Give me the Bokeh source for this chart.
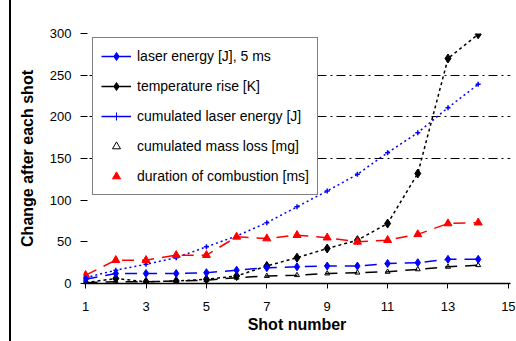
from bokeh.plotting import figure
from bokeh.models import FixedTicker, Legend, LegendItem, Range1d, ColumnDataSource, Div, Spacer
from bokeh.layouts import row
from bokeh.embed import file_html
from bokeh.resources import INLINE

nan = float("nan")

shots = [1, 2, 3, 4, 5, 6, 7, 8, 9, 10, 11, 12, 13, 14]
laser_energy = [5, 12, 12, 12, 13, 16, 19, 20, 21, 21, 24, 25, 29, 29]
temperature_rise = [1, 6, 2, 3, 5, 9, 21, 31, 42, 52, 72, 132, 270, 299]
cumulated_laser = [7, 16, 23, 31, 44, 57, 73, 92, 111, 131, 157, 181, 211, 239]
cumulated_mass = [1, 2, 2, 3, 4, 7, 9, 10, 12, 13, 14, 17, 20, 22]
duration = [10, 28, 28, 34, 34, 56, 54, 58, 55, 50, 52, 59, 72, 73]

x_ticks = [1, 3, 5, 7, 9, 11, 13, 15]
y_ticks = [0, 50, 100, 150, 200, 250, 300]
grid_ticks = [150, 200, 250]

FONT = "Liberation Sans"

p = figure(width=505, height=341, output_backend="svg", toolbar_location=None,
           x_range=Range1d(0.93, 15.07), y_range=Range1d(0, 300),
           min_border_left=72, min_border_right=6, min_border_top=33, min_border_bottom=58,
           margin=0)
p.outline_line_color = None
p.background_fill_color = "white"
p.border_fill_color = "white"

p.xgrid.visible = False
p.ygrid.ticker = FixedTicker(ticks=grid_ticks)
p.ygrid.grid_line_color = "black"
p.ygrid.grid_line_dash = "2 4 9 4"
p.ygrid.grid_line_width = 1.2

p.xaxis.ticker = FixedTicker(ticks=x_ticks)
p.yaxis.ticker = FixedTicker(ticks=y_ticks)
for ax in (p.xaxis[0], p.yaxis[0]):
    ax.major_label_text_font = FONT
    ax.major_label_text_font_size = "13px"
    ax.major_label_text_color = "black"
    ax.minor_tick_line_color = None
    ax.axis_label_text_font = FONT
    ax.axis_label_text_color = "black"
    ax.axis_label_text_font_style = "bold"
    ax.major_tick_line_color = "black"

p.xaxis.axis_line_color = "black"
p.xaxis.axis_line_width = 1.5
p.xaxis.major_tick_in = 0
p.xaxis.major_tick_out = 5
p.xaxis.major_label_standoff = 13
p.xaxis.axis_label = "Shot number"
p.xaxis.axis_label_text_font_size = "16px"
p.xaxis.axis_label_standoff = 2

p.yaxis.axis_line_color = None
p.yaxis.major_tick_in = 4
p.yaxis.major_tick_out = 3
p.yaxis.major_label_standoff = 9
p.yaxis.axis_label = "Change after each shot"
p.yaxis.axis_label_text_font_size = "16px"
p.yaxis.axis_label_standoff = 11

src = ColumnDataSource(dict(x=shots, le=laser_energy, tr=temperature_rise,
                            cl=cumulated_laser, cm=cumulated_mass, du=duration))

# cumulated laser energy (blue dotted)
p.line("x", "cl", source=src, color="blue", line_dash="2 3", line_width=1.5)
p.scatter("x", "cl", source=src, marker="cross", size=5, color="blue", line_width=1.5)
# temperature rise (black dotted)
p.line("x", "tr", source=src, color="black", line_dash="3 3", line_width=1.5)
p.scatter("x", "tr", source=src, marker="diamond", size=9, color="black")
# duration of combustion (red dashed)
p.line("x", "du", source=src, color="red", line_dash="12 8", line_width=1.5)
p.scatter("x", "du", source=src, marker="triangle", size=8, color="red")
# cumulated mass loss (black dashed)
p.line("x", "cm", source=src, color="black", line_dash="12 8", line_width=1.5)
p.scatter("x", "cm", source=src, marker="triangle", size=5, line_color="black", fill_color=None)
# laser energy (blue dashed)
p.line("x", "le", source=src, color="blue", line_dash="12 8", line_width=1.5)
p.scatter("x", "le", source=src, marker="diamond", size=8, color="blue")

# legend proxies (no visible data)
l1 = p.line(x=[nan], y=[nan], color="blue", line_width=1.5)
m1 = p.scatter(x=[nan], y=[nan], marker="diamond", size=7, color="blue")
l2 = p.line(x=[nan], y=[nan], color="black", line_width=1.5)
m2 = p.scatter(x=[nan], y=[nan], marker="diamond", size=7, color="black")
l3 = p.line(x=[nan], y=[nan], color="blue", line_width=1.5)
m3 = p.scatter(x=[nan], y=[nan], marker="cross", size=5, color="blue")
m4 = p.scatter(x=[nan], y=[nan], marker="triangle", size=5, line_color="black", fill_color=None)
m5 = p.scatter(x=[nan], y=[nan], marker="triangle", size=8, color="red")

legend = Legend(items=[
    LegendItem(label="laser energy [J], 5 ms", renderers=[l1, m1]),
    LegendItem(label="temperature rise [K]", renderers=[l2, m2]),
    LegendItem(label="cumulated laser energy [J]", renderers=[l3, m3]),
    LegendItem(label="cumulated mass loss [mg]", renderers=[m4]),
    LegendItem(label="duration of combustion [ms]", renderers=[m5]),
], location=(9, 88))
legend.label_text_font = FONT
legend.label_text_font_size = "14px"
legend.label_text_color = "black"
legend.border_line_color = "black"
legend.border_line_width = 1.5
legend.background_fill_color = "white"
legend.background_fill_alpha = 1
legend.glyph_width = 30
legend.label_standoff = 6
legend.label_height = 20
legend.spacing = 10
legend.padding = 8
legend.margin = 0
p.add_layout(legend, "center")

# left border line of the picture
gap = Spacer(width=9, height=341, margin=0)
edge = Div(text="", width=2, height=341, margin=0, styles={"background-color": "black"})

layout = row(gap, edge, p, spacing=0)

open("out.html", "w").write(file_html(layout, INLINE))
